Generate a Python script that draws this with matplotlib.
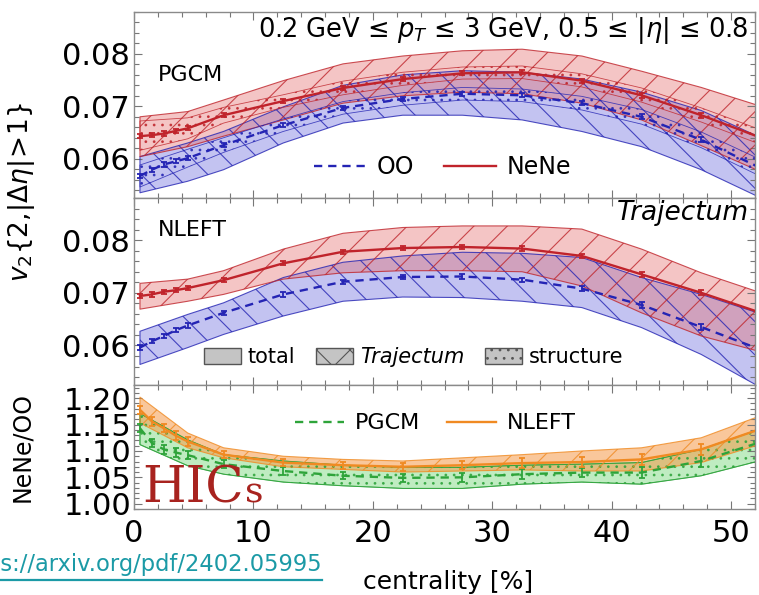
import matplotlib
matplotlib.use('Agg')
import matplotlib.pyplot as plt
from matplotlib.lines import Line2D
from matplotlib.patches import Patch
from matplotlib.ticker import MultipleLocator, FixedLocator, FormatStrFormatter

plt.rcParams['font.family'] = ['DejaVu Sans']
plt.rcParams['mathtext.fontset'] = 'dejavusans'
plt.rcParams['hatch.linewidth'] = 0.8

# ---------------- data ----------------
cent = [0.5, 1.5, 2.5, 3.5, 4.5, 7.5, 12.5, 17.5, 22.5, 27.5, 32.5, 37.5, 42.5, 47.5, 52.5]
band_cent = [0.5, 4.5, 7.5, 12.5, 17.5, 22.5, 27.5, 32.5, 37.5, 42.5, 47.5, 52.5]

# PGCM panel
pgcm_nene = [0.0643, 0.0645, 0.0648, 0.0653, 0.0658, 0.0683, 0.0710, 0.0735, 0.0752, 0.0763, 0.0765, 0.0749, 0.0721, 0.0683, 0.0640]
pgcm_oo = [0.0567, 0.0579, 0.0589, 0.0595, 0.0601, 0.0626, 0.0664, 0.0697, 0.0714, 0.0724, 0.0721, 0.0706, 0.0680, 0.0636, 0.0582]
pgcm_nene_hi = [0.0680, 0.0690, 0.0712, 0.0749, 0.0781, 0.0796, 0.0806, 0.0809, 0.0796, 0.0767, 0.0736, 0.0700]
pgcm_nene_lo = [0.0604, 0.0623, 0.0643, 0.0674, 0.0706, 0.0720, 0.0727, 0.0724, 0.0706, 0.0674, 0.0625, 0.0575]
pgcm_oo_hi = [0.0604, 0.0630, 0.0652, 0.0699, 0.0740, 0.0760, 0.0768, 0.0765, 0.0752, 0.0727, 0.0692, 0.0640]
pgcm_oo_lo = [0.0535, 0.0557, 0.0579, 0.0630, 0.0668, 0.0683, 0.0683, 0.0674, 0.0652, 0.0623, 0.0579, 0.0525]
pgcm_nene_str_hi = [0.0672, 0.0678, 0.0698, 0.0722, 0.0748, 0.0765, 0.0775, 0.0777, 0.0762, 0.0735, 0.0697, 0.0655]
pgcm_nene_str_lo = [0.0616, 0.0638, 0.0668, 0.0698, 0.0722, 0.0740, 0.0752, 0.0753, 0.0737, 0.0708, 0.0670, 0.0627]
pgcm_oo_str_hi = [0.0588, 0.0618, 0.0640, 0.0676, 0.0709, 0.0726, 0.0736, 0.0733, 0.0719, 0.0694, 0.0651, 0.0598]
pgcm_oo_str_lo = [0.0546, 0.0584, 0.0612, 0.0652, 0.0685, 0.0702, 0.0712, 0.0709, 0.0693, 0.0666, 0.0621, 0.0566]

# NLEFT panel
nleft_nene = [0.0694, 0.0697, 0.0702, 0.0705, 0.0709, 0.0724, 0.0756, 0.0778, 0.0785, 0.0787, 0.0784, 0.0770, 0.0735, 0.0700, 0.0662]
nleft_oo = [0.0596, 0.0608, 0.0618, 0.0629, 0.0638, 0.0662, 0.0697, 0.0721, 0.0730, 0.0731, 0.0725, 0.0708, 0.0677, 0.0635, 0.0592]
nleft_nene_hi = [0.0718, 0.0726, 0.0742, 0.0783, 0.0813, 0.0824, 0.0827, 0.0827, 0.0821, 0.0783, 0.0738, 0.0700]
nleft_nene_lo = [0.0669, 0.0684, 0.0697, 0.0726, 0.0738, 0.0742, 0.0742, 0.0740, 0.0713, 0.0662, 0.0618, 0.0588]
nleft_oo_hi = [0.0627, 0.0659, 0.0681, 0.0729, 0.0758, 0.0770, 0.0777, 0.0775, 0.0767, 0.0729, 0.0697, 0.0660]
nleft_oo_lo = [0.0564, 0.0596, 0.0621, 0.0656, 0.0684, 0.0692, 0.0691, 0.0684, 0.0672, 0.0634, 0.0583, 0.0520]

v2_err = [0.0004, 0.0004, 0.0004, 0.0004, 0.0004, 0.0004, 0.0004, 0.0004, 0.0004, 0.0004, 0.0004, 0.0004, 0.0005, 0.0005, 0.0006]

# ratio panel
ratio_nleft = [1.178, 1.156, 1.143, 1.129, 1.118, 1.093, 1.078, 1.073, 1.070, 1.073, 1.077, 1.079, 1.084, 1.103, 1.142]
ratio_pgcm = [1.143, 1.115, 1.103, 1.097, 1.092, 1.075, 1.062, 1.053, 1.049, 1.050, 1.056, 1.059, 1.059, 1.081, 1.117]
ratio_nleft_hi = [1.202, 1.134, 1.106, 1.090, 1.084, 1.081, 1.087, 1.093, 1.100, 1.106, 1.125, 1.167]
ratio_nleft_lo = [1.153, 1.106, 1.087, 1.070, 1.065, 1.060, 1.062, 1.064, 1.062, 1.062, 1.078, 1.113]
ratio_pgcm_hi = [1.171, 1.121, 1.093, 1.081, 1.073, 1.069, 1.069, 1.073, 1.075, 1.078, 1.103, 1.142]
ratio_pgcm_lo = [1.112, 1.072, 1.056, 1.041, 1.034, 1.029, 1.029, 1.037, 1.041, 1.037, 1.053, 1.082]
ratio_err = [0.008, 0.008, 0.008, 0.008, 0.008, 0.007, 0.007, 0.007, 0.008, 0.008, 0.009, 0.009, 0.010, 0.011, 0.012]

xticks = [0, 10, 20, 30, 40, 50]
v2_ticks = [0.06, 0.07, 0.08]
ratio_ticks = [1.00, 1.05, 1.10, 1.15, 1.20]

# ---------------- style ----------------
RED, RED_F = '#c0232b', '#e5706f'
BLUE, BLUE_F = '#2424b4', '#6b6bdc'
GREEN, GREEN_F = '#2ea43a', '#5fd064'
ORANGE, ORANGE_F = '#f08a22', '#f59a4a'
RED_E = (0.75, 0.14, 0.17, 0.8)
BLUE_E = (0.14, 0.14, 0.7, 0.8)
GREEN_E = (0.18, 0.64, 0.23, 0.8)
ORANGE_E = (0.94, 0.54, 0.13, 0.8)

fig = plt.figure(figsize=(7.59, 5.95), dpi=100)
L, W = 134 / 759, 621 / 759
ax1 = fig.add_axes([L, 1 - 198 / 595, W, 186 / 595])
ax2 = fig.add_axes([L, 1 - 385 / 595, W, 187 / 595])
ax3 = fig.add_axes([L, 1 - 509 / 595, W, 124 / 595])


def band(ax, lo, hi, fc, ec, alpha, hatch=None):
    ax.fill_between(band_cent, lo, hi, facecolor=fc, alpha=alpha, edgecolor='none', zorder=1)
    ax.fill_between(band_cent, lo, hi, facecolor='none', edgecolor=ec, lw=0.8,
                    hatch=hatch, zorder=2)


def dots(ax, lo, hi, ec):
    ax.fill_between(band_cent, lo, hi, facecolor='none', edgecolor=ec, lw=0.6,
                    hatch='..', zorder=2)


def curve(ax, y, err, color, ls):
    ax.plot(cent, y, color=color, lw=1.7, ls=ls, zorder=3,
            dashes=(3.5, 2.5) if ls == '--' else (None, None))
    ax.errorbar(cent, y, yerr=err, fmt='none', ecolor=color, elinewidth=1.3,
                capsize=2.5, capthick=1.3, zorder=4)


# PGCM
band(ax1, pgcm_oo_lo, pgcm_oo_hi, BLUE_F, BLUE_E, 0.4, '\\')
band(ax1, pgcm_nene_lo, pgcm_nene_hi, RED_F, RED_E, 0.4, '/')
dots(ax1, pgcm_oo_str_lo, pgcm_oo_str_hi, BLUE_E)
dots(ax1, pgcm_nene_str_lo, pgcm_nene_str_hi, RED_E)
curve(ax1, pgcm_oo, v2_err, BLUE, '--')
curve(ax1, pgcm_nene, v2_err, RED, '-')

# NLEFT
band(ax2, nleft_oo_lo, nleft_oo_hi, BLUE_F, BLUE_E, 0.4, '\\')
band(ax2, nleft_nene_lo, nleft_nene_hi, RED_F, RED_E, 0.4, '/')
curve(ax2, nleft_oo, v2_err, BLUE, '--')
curve(ax2, nleft_nene, v2_err, RED, '-')

# ratio
band(ax3, ratio_pgcm_lo, ratio_pgcm_hi, GREEN_F, GREEN_E, 0.4, None)
dots(ax3, ratio_pgcm_lo, ratio_pgcm_hi, GREEN_E)
band(ax3, ratio_nleft_lo, ratio_nleft_hi, ORANGE_F, ORANGE_E, 0.55, '/')
curve(ax3, ratio_pgcm, ratio_err, GREEN, '--')
curve(ax3, ratio_nleft, ratio_err, ORANGE, '-')

for ax in (ax1, ax2, ax3):
    ax.set_xlim(0, 52)
    ax.xaxis.set_major_locator(FixedLocator(xticks))
    ax.xaxis.set_minor_locator(MultipleLocator(2))
    ax.tick_params(which='both', direction='in', top=True, right=True,
                   color='#777777', labelsize=22, width=0.8)
    ax.tick_params(which='major', length=6)
    ax.tick_params(which='minor', length=3.5)
    for s in ax.spines.values():
        s.set_color('#8a8a8a')
        s.set_linewidth(1.0)

for ax in (ax1, ax2):
    ax.set_ylim(0.0525, 0.088)
    ax.yaxis.set_major_locator(FixedLocator(v2_ticks))
    ax.yaxis.set_minor_locator(MultipleLocator(0.002))
    ax.yaxis.set_major_formatter(FormatStrFormatter('%.2f'))
    ax.tick_params(labelbottom=False)
    ax.tick_params(axis='y', pad=3)

ax3.set_ylim(0.99, 1.225)
ax3.yaxis.set_major_locator(FixedLocator(ratio_ticks))
ax3.yaxis.set_minor_locator(MultipleLocator(0.01))
ax3.yaxis.set_major_formatter(FormatStrFormatter('%.2f'))
ax3.tick_params(axis='y', pad=2)
ax3.tick_params(axis='x', pad=7)

# legends
leg1 = ax1.legend(handles=[Line2D([], [], color=BLUE, lw=1.7, dashes=(3.5, 2.5)),
                           Line2D([], [], color=RED, lw=1.7)],
                  labels=['OO', 'NeNe'], ncol=2, loc='center',
                  bbox_to_anchor=(0.497, 0.167), frameon=False, fontsize=17,
                  handlelength=2.2, columnspacing=1.25, handletextpad=0.45)

leg2 = ax2.legend(handles=[Patch(facecolor='#c4c4c4', edgecolor='#555555'),
                           Patch(facecolor='#c4c4c4', edgecolor='#555555', hatch='\\/'),
                           Patch(facecolor='#c4c4c4', edgecolor='#555555', hatch='..')],
                  labels=['total', 'Trajectum', 'structure'], ncol=3, loc='center',
                  bbox_to_anchor=(0.45, 0.15), frameon=False, fontsize=15,
                  handlelength=1.8, handleheight=0.8, columnspacing=1.0, handletextpad=0.3)
leg2.get_texts()[1].set_fontstyle('italic')

leg3 = ax3.legend(handles=[Line2D([], [], color=GREEN, lw=1.7, dashes=(3.5, 2.5)),
                           Line2D([], [], color=ORANGE, lw=1.7)],
                  labels=['PGCM', 'NLEFT'], ncol=2, loc='center',
                  bbox_to_anchor=(0.485, 0.69), frameon=False, fontsize=16,
                  handlelength=2.2, columnspacing=1.2, handletextpad=0.5)

# texts
ax1.text(0.99, 0.90, r'0.2 GeV ≤ $p_T$ ≤ 3 GeV, 0.5 ≤ |$\eta$| ≤ 0.8', transform=ax1.transAxes,
         ha='right', va='center', fontsize=18.5)
ax1.text(0.039, 0.66, 'PGCM', transform=ax1.transAxes, ha='left', va='center', fontsize=16)
ax2.text(0.039, 0.83, 'NLEFT', transform=ax2.transAxes, ha='left', va='center', fontsize=16)
ax2.text(0.99, 0.92, 'Trajectum', transform=ax2.transAxes, ha='right', va='center',
         fontsize=19, fontstyle='italic')

hic = ax3.text(0.014, 0.05, 'HIC', transform=ax3.transAxes, ha='left', va='baseline',
               fontsize=36, family='DejaVu Serif', color='#a8231f', zorder=6)
fig.canvas.draw()
bb = hic.get_window_extent(renderer=fig.canvas.get_renderer())
x_s, _ = ax3.transAxes.inverted().transform((bb.x1 + 1, bb.y0))
ax3.text(x_s, 0.05, 's', transform=ax3.transAxes, ha='left', va='baseline',
         fontsize=26, family='DejaVu Serif', color='#a8231f', zorder=6)

fig.text(22 / 759, 1 - 192 / 595, r'$v_2\{2,\!|\Delta\eta|\!>\!1\}$', rotation=90,
         ha='center', va='center', fontsize=19)
fig.text(22 / 759, 1 - 447 / 595, 'NeNe/OO', rotation=90, ha='center', va='center', fontsize=17)
fig.text(448 / 759, 1 - 582 / 595, 'centrality [%]', ha='center', va='center', fontsize=18)

URL_C = '#1b9aa6'
fig.text(322 / 759, 1 - 565 / 595, 'https://arxiv.org/pdf/2402.05995', ha='right', va='center',
         color=URL_C, fontsize=16.3)
fig.add_artist(Line2D([0, 322 / 759], [1 - 580 / 595] * 2, color=URL_C, lw=1.6))

fig.savefig('out.png', dpi=100)
